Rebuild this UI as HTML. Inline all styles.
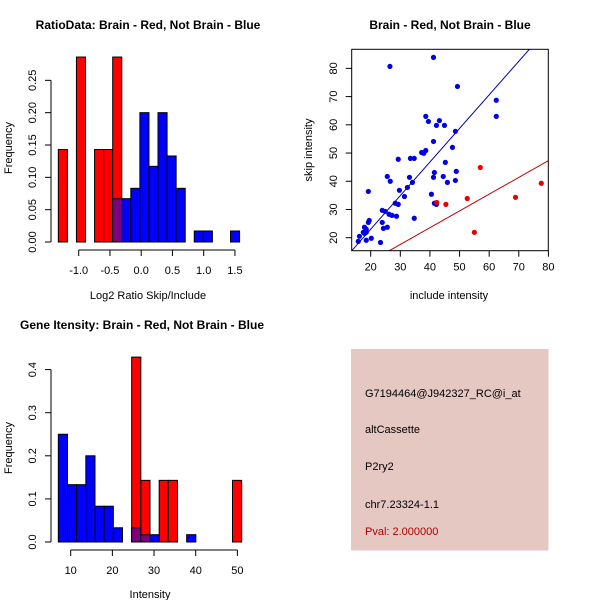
<!DOCTYPE html>
<html><head><meta charset="utf-8"><style>
body{margin:0;background:#fff}
svg{display:block;font-family:"Liberation Sans",sans-serif}
</style></head><body>
<svg id="s" width="600" height="600" viewBox="0 0 600 600">
<rect width="600" height="600" fill="#fff"/>
<g id="p1"></g>
<g id="p2"></g>
<g id="p3"></g>
<g>
<rect x="351" y="349" width="197.5" height="201.5" fill="#e5c8c2"/>
<text x="365" y="397" font-size="11">G7194464@J942327_RC@i_at</text>
<text x="365" y="433" font-size="11">altCassette</text>
<text x="365" y="470" font-size="11">P2ry2</text>
<text x="365" y="508" font-size="11">chr7.23324-1.1</text>
<text x="365" y="535" font-size="11" fill="#b00000">Pval: 2.000000</text>
</g>
</svg>
<script>
// Ratio histogram
const r1Start=-1.326, r1Width=0.145;
const r1Red=[0.143,0,0.286,0,0.143,0.143,0.286];
const r1Blue=[0,0,0,0,0,0,0.067,0.067,0.083,0.2,0.117,0.2,0.133,0.083,0,0.017,0.017,0,0,0.017];
const r1XTicks=[-1.0,-0.5,0.0,0.5,1.0,1.5];
const r1YTicks=[0.00,0.05,0.10,0.15,0.20,0.25];
// Gene intensity histogram
const r3Start=7.03, r3Width=2.2;
const r3Red=[0,0,0,0,0,0,0,0,0.429,0.143,0,0.143,0.143,0,0,0,0,0,0,0.143];
const r3Blue=[0.25,0.133,0.133,0.2,0.083,0.083,0.033,0,0.033,0.017,0.017,0,0,0,0.017];
const r3XTicks=[10,20,30,40,50];
const r3YTicks=[0.0,0.1,0.2,0.3,0.4];
// Scatter
const blueX=[26.5,41.2,49.3,62.4,62.4,38.6,39.5,43.2,42.2,44.9,48.6,41.2,47.6,38.6,37.2,37.9,33.4,34.7,29.3,45.2,48.9,48.6,45.9,41.5,41.2,44.5,33.1,34.1,32.4,25.6,26.6,29.7,31.4,40.5,19.2,41.5,42.2,28.3,29.3,28.7,34.7,23.9,24.9,26.2,27.2,23.9,19.5,19.2,24.3,25.6,17.9,18.5,17.5,18.5,17.9,16.2,15.8,18.5,20.2,23.3];
const blueY=[80.7,83.9,73.6,68.7,63.0,63.0,61.2,61.5,59.8,59.8,57.7,54.1,52.0,50.9,50.2,49.9,48.1,48.1,47.8,46.7,43.5,40.3,39.6,43.1,41.4,41.7,41.4,39.6,37.8,41.7,40.0,36.8,34.6,35.4,36.4,32.2,31.8,32.2,31.8,27.6,26.9,29.7,29.3,28.3,27.9,25.4,26.1,25.4,23.3,23.7,23.7,23.0,21.9,21.9,21.5,20.5,18.7,19.1,19.8,18.3];
const redX=[57.0,52.6,45.4,42.3,68.9,77.6,55.0];
const redY=[44.9,33.9,31.8,32.5,34.3,39.3,21.9];
const blueFit=[1.19,-0.78];
const redFit=[0.594,-0.22];
const sXTicks=[20,30,40,50,60,70,80];
const sYTicks=[20,30,40,50,60,70,80];

const NS="http://www.w3.org/2000/svg";
function mk(parent,tag,attrs,txt){const e=document.createElementNS(NS,tag);for(const k in attrs)e.setAttribute(k,attrs[k]);if(txt!==undefined)e.textContent=txt;parent.appendChild(e);return e;}

function hist(g,o){
  const X=v=>o.x0+(v-o.xv0)*o.xs, Y=v=>o.y0-v*o.ys;
  o.red.forEach((v,i)=>{if(v<=0)return;
    const r=mk(g,'rect',{x:X(o.start+i*o.w),y:Y(v),width:o.w*o.xs,height:v*o.ys,fill:'#ff0000',stroke:'#000','stroke-width':1});
    
    });
  o.blue.forEach((v,i)=>{if(v<=0)return;
    const ov=(o.red[i]||0)>0;
    const r=mk(g,'rect',{x:X(o.start+i*o.w),y:Y(v),width:o.w*o.xs,height:v*o.ys,fill:ov?'#7f007f':'#0000ff',stroke:'#000','stroke-width':1});
    
    });
  // y axis
  const ya=mk(g,'g',{});
  
  
  mk(ya,'line',{x1:51,x2:51,y1:Y(o.yt[0]),y2:Y(o.yt[o.yt.length-1]),stroke:'#000'});
  o.yt.forEach(t=>{mk(ya,'line',{x1:45,x2:51,y1:Y(t),y2:Y(t),stroke:'#000'});
    const tx=mk(ya,'text',{x:0,y:0,'font-size':11,'text-anchor':'middle',transform:`translate(36,${Y(t)}) rotate(-90)`},o.yfmt(t));
    
    });
  const xa=mk(g,'g',{});
  
  
  const ay=o.y0+8;
  mk(xa,'line',{x1:X(o.xt[0]),x2:X(o.xt[o.xt.length-1]),y1:ay,y2:ay,stroke:'#000'});
  o.xt.forEach(t=>{mk(xa,'line',{x1:X(t),x2:X(t),y1:ay,y2:ay+6,stroke:'#000'});
    const tx=mk(xa,'text',{x:X(t),y:ay+24,'font-size':11,'text-anchor':'middle'},o.xfmt(t));
    
    });
}

const g1=document.getElementById('p1');
hist(g1,{x0:78.7,xv0:-1,xs:62.5,y0:242,ys:646.7,start:r1Start,w:r1Width,red:r1Red,blue:r1Blue,xt:r1XTicks,yt:r1YTicks,xfmt:t=>t.toFixed(1),yfmt:t=>t.toFixed(2)});
const g3=document.getElementById('p3');
hist(g3,{x0:70.7,xv0:10,xs:4.167,y0:542,ys:431,start:r3Start,w:r3Width,red:r3Red,blue:r3Blue,xt:r3XTicks,yt:r3YTicks,xfmt:t=>String(t),yfmt:t=>t.toFixed(1)});

function lab(g,tag,attrs,txt,name){const e=mk(g,tag,attrs,txt);}
lab(g1,'text',{x:148,y:29,'font-size':12,'font-weight':'bold','text-anchor':'middle'},'RatioData: Brain - Red, Not Brain - Blue','ratio-title');
lab(g1,'text',{x:148,y:299,'font-size':11,'text-anchor':'middle'},'Log2 Ratio Skip/Include','ratio-x-title');
lab(g1,'text',{x:0,y:0,'font-size':11,'text-anchor':'middle',transform:'translate(12,148) rotate(-90)'},'Frequency','ratio-y-title');
lab(g3,'text',{x:142,y:329,'font-size':12,'font-weight':'bold','text-anchor':'middle'},'Gene Itensity: Brain - Red, Not Brain - Blue','intensity-title');
lab(g3,'text',{x:150,y:598,'font-size':11,'text-anchor':'middle'},'Intensity','intensity-x-title');
lab(g3,'text',{x:0,y:0,'font-size':11,'text-anchor':'middle',transform:'translate(12,448) rotate(-90)'},'Frequency','intensity-y-title');

// scatter
const g2=document.getElementById('p2');
const L=351.7,R=548.3,T=49.3,B=250.7;
const SX=v=>370.7+(v-20)*2.9617, SY=v=>237.7-(v-20)*2.822;
const xmin=20-(370.7-L)/2.9617, xmax=80+(R-548.3)/2.9617;
const cp=mk(g2,'clipPath',{id:'cp'});mk(cp,'rect',{x:L,y:T,width:R-L,height:B-T});
function fitLine(f,col,name){
  const l=mk(g2,'line',{x1:SX(xmin),y1:SY(f[0]*xmin+f[1]),x2:SX(xmax+5),y2:SY(f[0]*(xmax+5)+f[1]),stroke:col,'stroke-width':1,'clip-path':'url(#cp)'});
  
  
}
blueX.forEach((x,i)=>{const c=mk(g2,'circle',{cx:SX(x),cy:SY(blueY[i]),r:2.6,fill:'#0000e6'});
  
  });
redX.forEach((x,i)=>{const c=mk(g2,'circle',{cx:SX(x),cy:SY(redY[i]),r:2.6,fill:'#e60000'});
  
  });
fitLine(blueFit,'#0000b0','blue-fit-line');
fitLine(redFit,'#c00000','red-fit-line');
lab(g2,'rect',{x:L,y:T,width:R-L,height:B-T,fill:'none',stroke:'#000'},undefined,'plot-box');
sXTicks.forEach(t=>{mk(g2,'line',{x1:SX(t),x2:SX(t),y1:B,y2:B+6,stroke:'#000'});
  lab(g2,'text',{x:SX(t),y:B+20,'font-size':11,'text-anchor':'middle'},String(t),'x-tick-label');});
sYTicks.forEach(t=>{mk(g2,'line',{x1:L-6,x2:L,y1:SY(t),y2:SY(t),stroke:'#000'});
  lab(g2,'text',{x:0,y:0,'font-size':11,'text-anchor':'middle',transform:`translate(337,${SY(t)}) rotate(-90)`},String(t),'y-tick-label');});
lab(g2,'text',{x:450,y:29,'font-size':12,'font-weight':'bold','text-anchor':'middle'},'Brain - Red, Not Brain - Blue','scatter-title');
lab(g2,'text',{x:449,y:299,'font-size':11,'text-anchor':'middle'},'include intensity','scatter-x-title');
lab(g2,'text',{x:0,y:0,'font-size':11,'text-anchor':'middle',transform:'translate(312,150) rotate(-90)'},'skip intensity','scatter-y-title');
</script>
</body></html>
